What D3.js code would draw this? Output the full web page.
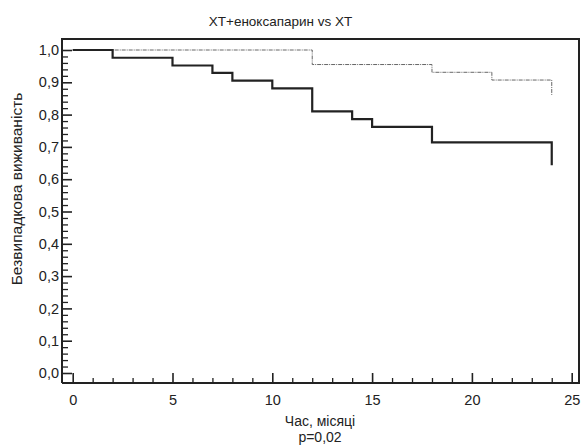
<!DOCTYPE html>
<html><head><meta charset="utf-8">
<script src="https://cdn.jsdelivr.net/npm/d3@7"></script>
<style>
body{margin:0;background:#fff;}
text{font-family:"Liberation Sans",Arial,sans-serif;fill:#222;}
</style></head>
<body><svg id="c" width="582" height="448"></svg>
<script>
const title = "XT+еноксапарин vs XT";
const xLabel = "Час, місяці";
const pLabel = "p=0,02";
const yLabel = "Безвипадкова виживаність";
const xTicks = [0,5,10,15,20,25];
const yTicks = [0,0.1,0.2,0.3,0.4,0.5,0.6,0.7,0.8,0.9,1.0];
const timesXT = [0,2,5,7,8,10,12,14,15,18,24];
const survXT = [1.0,0.976,0.952,0.929,0.905,0.881,0.810,0.786,0.762,0.714,0.643];
const timesEnox = [0,12,18,21,24];
const survEnox = [1.0,0.955,0.931,0.907,0.861];

const svg = d3.select("#c");
const x = d3.scaleLinear().domain([0,25]).range([72.7,571.7]);
const y = d3.scaleLinear().domain([0,1]).range([373,50]);
const axL = 62, axB = 383, frT = 39, frR = 579;
const ink = "#222";
const fmt = d => d3.format(".1f")(d).replace(".", ",");

// Minor y ticks
const yMinor = d3.range(0, 1.0001, 0.02).filter(v => Math.abs(Math.round(v*10)-v*10) > 1e-6);
svg.append("g").attr("transform",`translate(${axL},0)`)
  .call(d3.axisLeft(y).tickValues(yMinor).tickSize(-6).tickFormat(""))
  .call(g=>g.select(".domain").remove())
  .selectAll("line").attr("stroke",ink).attr("stroke-width",1.3);
svg.append("g").attr("transform",`translate(${axL},0)`)
  .call(d3.axisLeft(y).tickValues(yTicks).tickSize(-10).tickPadding(3).tickFormat(fmt))
  .call(g=>g.select(".domain").remove())
  .call(g=>g.selectAll("line").attr("stroke",ink).attr("stroke-width",1.6))
  .call(g=>g.selectAll("text").attr("font-size",14.5).attr("fill","#222"));

// x ticks
const xMinor = d3.range(0,26).filter(v => v%5!==0);
svg.append("g").attr("transform",`translate(0,${axB})`)
  .call(d3.axisBottom(x).tickValues(xMinor).tickSize(-5).tickFormat(""))
  .call(g=>g.select(".domain").remove())
  .selectAll("line").attr("stroke",ink).attr("stroke-width",1.3);
svg.append("g").attr("transform",`translate(0,${axB})`)
  .call(d3.axisBottom(x).tickValues(xTicks).tickSize(-10).tickPadding(12).tickFormat(d3.format("d")))
  .call(g=>g.select(".domain").remove())
  .call(g=>g.selectAll("line").attr("stroke",ink).attr("stroke-width",1.6))
  .call(g=>g.selectAll("text").attr("font-size",14.5).attr("fill","#222"));

// frame
svg.append("path")
  .attr("d",`M${axL},${axB}V${frT}H${frR}V${axB}H${axL}`)
  .attr("fill","none").attr("stroke",ink).attr("stroke-width",2);

// curves
const line = d3.line().x(d=>x(d[0])).y(d=>y(d[1])).curve(d3.curveStepAfter);
svg.append("path").datum(timesEnox.map((t,i)=>[t,survEnox[i]]))
  .attr("d",line).attr("fill","none").attr("stroke","#666").attr("stroke-width",1)
  .attr("stroke-dasharray","4,1,1,1");
svg.append("path").datum(timesXT.map((t,i)=>[t,survXT[i]]))
  .attr("d",line).attr("fill","none").attr("stroke",ink).attr("stroke-width",2.2);

// texts
svg.append("text").attr("x",280.5).attr("y",26).attr("text-anchor","middle").attr("font-size",13.5).text(title);
svg.append("text").attr("x",320).attr("y",426).attr("text-anchor","middle").attr("font-size",14).text(xLabel);
svg.append("text").attr("x",320).attr("y",442).attr("text-anchor","middle").attr("font-size",14).text(pLabel);
svg.append("text").attr("transform",`translate(22,189) rotate(-90)`)
  .attr("text-anchor","middle").attr("font-size",15.5).text(yLabel);
</script></body></html>
